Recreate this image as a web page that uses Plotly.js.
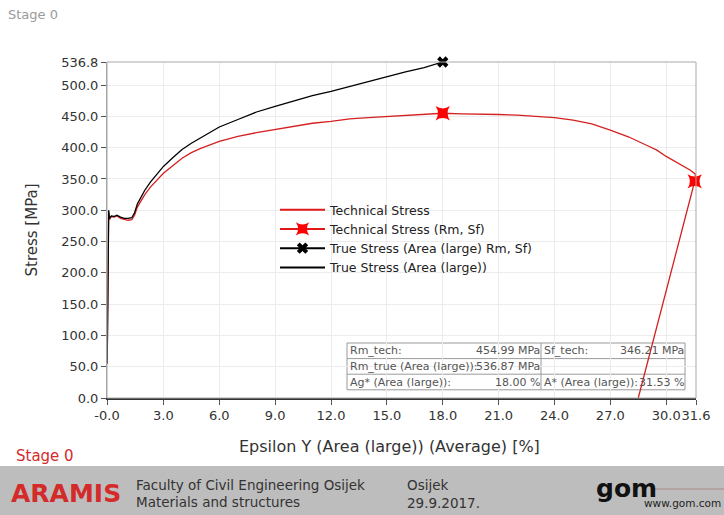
<!DOCTYPE html>
<html>
<head>
<meta charset="utf-8">
<script src="https://cdn.plot.ly/plotly-3.0.1.min.js"></script>
<style>html,body{margin:0;padding:0;background:#fff;}#chart{width:724px;height:515px;}</style>
</head>
<body>
<div id="chart"></div>
<script>
// ---- data ----
const techStrain = [-0.02, 0.0, 0.02, 0.04, 0.06, 0.1, 0.2, 0.35, 0.5, 0.7, 0.9, 1.1, 1.3, 1.45, 1.6, 1.8, 2.0, 2.3, 2.6, 3.0, 3.5, 4.0, 4.5, 5.0, 6.0, 7.0, 8.0, 9.0, 10.0, 11.0, 12.0, 13.0, 14.0, 15.0, 16.0, 17.0, 18.0, 19.0, 20.0, 21.0, 22.0, 23.0, 24.0, 25.0, 26.0, 27.0, 28.0, 29.0, 29.5, 30.0, 30.5, 31.0, 31.3, 31.55, 31.6, 31.53, 28.5];
const techStress = [55, 130, 200, 260, 298, 285, 290, 289, 291, 287, 285, 284, 285, 292, 305, 315, 325, 337, 347, 359, 371, 383, 392, 399, 410, 418, 424, 429, 435, 439, 442, 446, 448, 450, 452, 453, 455, 454, 454, 453, 452, 450, 448, 444, 438, 428, 417, 403, 396, 386, 377, 369, 364, 358, 350, 346.2, 0];
const trueStrain = [-0.02, 0.0, 0.02, 0.04, 0.06, 0.1, 0.2, 0.35, 0.5, 0.7, 0.9, 1.1, 1.3, 1.45, 1.6, 1.8, 2.0, 2.3, 2.6, 3.0, 3.5, 4.0, 4.5, 5.0, 6.0, 7.0, 8.0, 9.0, 10.0, 11.0, 12.0, 13.0, 14.0, 15.0, 16.0, 17.0, 18.0];
const trueStress = [55, 130, 200, 262, 300, 287, 291, 290, 292, 289, 287, 287, 288, 296, 310, 321, 332, 345, 356, 370, 384, 397, 407, 416, 433, 445, 457, 466, 475, 483, 490, 498, 505, 513, 521, 528, 536.87];
const techMarkStrain = [18.0, 31.53];
const techMarkStress = [454.99, 346.21];
const trueMarkStrain = [18.0];
const trueMarkStress = [536.87];

const xTickVals = [-0.03, 3, 6, 9, 12, 15, 18, 21, 24, 27, 30, 31.6];
const xTickText = ["-0.0", "3.0", "6.0", "9.0", "12.0", "15.0", "18.0", "21.0", "24.0", "27.0", "30.0", "31.6"];
const yTickVals = [0, 50, 100, 150, 200, 250, 300, 350, 400, 450, 500, 536.8];
const yTickText = ["0.0", "50.0", "100.0", "150.0", "200.0", "250.0", "300.0", "350.0", "400.0", "450.0", "500.0", "536.8"];

const tableRows = [
  ["Rm_tech:", "454.99 MPa", "Sf_tech:", "346.21 MPa"],
  ["Rm_true (Area (large)):", "536.87 MPa", "", ""],
  ["Ag* (Area (large)):", "18.00 %", "A* (Area (large)):", "31.53 %"]
];

// ---- layout geometry (pixels) ----
const W = 724, H = 515;
const L = 107, R = 696, T = 62, B = 398;
const px = x => (x - L) / (R - L);
const py = y => (B - y) / (B - T);
const FONT = "DejaVu Sans, Verdana, sans-serif";

const traces = [
  {x: techStrain, y: techStress, mode: "lines", name: "Technical Stress",
   line: {color: "#d42020", width: 1.3}, showlegend: false},
  {x: trueStrain, y: trueStress, mode: "lines", name: "True Stress (Area (large))",
   line: {color: "#000", width: 1.3}, showlegend: false},
  {x: techMarkStrain, y: techMarkStress, mode: "markers", name: "Technical Stress (Rm, Sf)",
   marker: {symbol: "star-square", size: 13, color: "#ff0000", line: {width: 0}}, cliponaxis: false, showlegend: false},
  {x: trueMarkStrain, y: trueMarkStress, mode: "markers", name: "True Stress (Area (large) Rm, Sf)",
   marker: {symbol: "x", size: 10, color: "#000", line: {width: 0}}, cliponaxis: false, showlegend: false},
  // legend entries
  {x: [null], y: [null], mode: "lines", name: "Technical Stress", line: {color: "#e01818", width: 2}},
  {x: [null], y: [null], mode: "lines+markers", name: "Technical Stress (Rm, Sf)", line: {color: "#e01818", width: 2},
   marker: {symbol: "star-square", size: 12, color: "#ff0000"}},
  {x: [null], y: [null], mode: "lines+markers", name: "True Stress (Area (large) Rm, Sf)", line: {color: "#000", width: 2},
   marker: {symbol: "x", size: 10, color: "#000"}},
  {x: [null], y: [null], mode: "lines", name: "True Stress (Area (large))", line: {color: "#000", width: 2}}
];

// table geometry
const tL = 347, tR = 685, tMid = 541, tTop = 343, tRowH = 15.6;
const shapes = [
  {type: "rect", xref: "paper", yref: "paper", x0: 0, x1: 1, y0: 0, y1: 1, line: {color: "#a8a8a8", width: 1}, layer: "above"},
  {type: "rect", xref: "paper", yref: "paper", x0: px(tL), x1: px(tR), y0: py(tTop + 3 * tRowH), y1: py(tTop),
   fillcolor: "rgba(255,255,255,0.95)", line: {color: "#9a9a9a", width: 1}, layer: "between"},
  {type: "line", xref: "paper", yref: "paper", x0: px(tL), x1: px(tR), y0: py(tTop + tRowH), y1: py(tTop + tRowH), line: {color: "#9a9a9a", width: 1}, layer: "between"},
  {type: "line", xref: "paper", yref: "paper", x0: px(tL), x1: px(tR), y0: py(tTop + 2 * tRowH), y1: py(tTop + 2 * tRowH), line: {color: "#9a9a9a", width: 1}, layer: "between"},
  {type: "line", xref: "paper", yref: "paper", x0: px(tMid), x1: px(tMid), y0: py(tTop + 3 * tRowH), y1: py(tTop), line: {color: "#9a9a9a", width: 1}, layer: "between"},
  {type: "rect", xref: "paper", yref: "paper", x0: px(0), x1: px(W), y0: py(H), y1: py(466), fillcolor: "#bdbdbd", line: {width: 0}, layer: "below"},
  {type: "line", xref: "paper", yref: "paper", x0: px(650), x1: px(W), y0: py(489), y1: py(489), line: {color: "#a88", width: 1}, layer: "above"}
];

const annotations = [];
function txt(text, x, y, opts) {
  annotations.push(Object.assign({
    text: text, xref: "paper", yref: "paper", x: px(x), y: py(y), showarrow: false,
    xanchor: "left", yanchor: "middle", font: {family: FONT, size: 11, color: "#555"}
  }, opts || {}));
}
tableRows.forEach((row, i) => {
  const yc = tTop + tRowH * (i + 0.5);
  txt(row[0], tL + 1, yc);
  txt(row[1], tMid + 1, yc, {xanchor: "right"});
  if (row[2]) txt(row[2], tMid + 1, yc);
  if (row[3]) txt(row[3], tR + 1, yc, {xanchor: "right"});
});
txt("Epsilon Y (Area (large)) (Average) [%]", 389, 446, {xanchor: "center", font: {family: FONT, size: 16, color: "#333"}});
txt("Stage 0", 6, 14, {font: {family: FONT, size: 13, color: "#9a9a9a"}});
txt("Stage 0", 14, 456, {font: {family: FONT, size: 15, color: "#d42a2a"}});
txt("<b>ARAMIS</b>", 9, 494, {font: {family: FONT, size: 25, color: "#d42a2a"}});
txt("Faculty of Civil Engineering Osijek", 134, 485, {font: {family: FONT, size: 13.5, color: "#333"}});
txt("Materials and structures", 134, 502, {font: {family: FONT, size: 13.5, color: "#333"}});
txt("Osijek", 405, 485, {font: {family: FONT, size: 13.5, color: "#333"}});
txt("29.9.2017.", 405, 503, {font: {family: FONT, size: 13.5, color: "#333"}});
txt("<b>gom</b>", 594, 488, {font: {family: FONT, size: 25, color: "#111"}});
txt("www.gom.com", 723, 503, {xanchor: "right", font: {family: FONT, size: 10.5, color: "#222"}});

const layout = {
  width: W, height: H,
  margin: {l: L, r: W - R, t: T, b: H - B, pad: 0},
  paper_bgcolor: "#fff", plot_bgcolor: "#fff",
  font: {family: FONT, size: 13, color: "#333"},
  showlegend: true,
  legend: {x: px(275), y: py(195), xanchor: "left", yanchor: "top", bgcolor: "rgba(0,0,0,0)",
           font: {family: FONT, size: 12.5, color: "#222"}, tracegroupgap: 0, itemwidth: 45},
  xaxis: {range: [-0.03, 31.6], tickvals: xTickVals, ticktext: xTickText, ticks: "outside", ticklen: 5, tickangle: 0,
          tickcolor: "#555", showgrid: true, gridcolor: "#ececec", zeroline: false,
          showline: true, linecolor: "#333", linewidth: 1.5,
          tickfont: {family: FONT, size: 13, color: "#333"}},
  yaxis: {range: [0, 536.87], tickvals: yTickVals, ticktext: yTickText, ticks: "outside", ticklen: 5,
          tickcolor: "#555", showgrid: true, gridcolor: "#ececec", zeroline: false,
          showline: true, linecolor: "#a0a0a0", linewidth: 1,
          tickfont: {family: FONT, size: 13, color: "#333"},
          title: {text: "Stress [MPa]", font: {family: FONT, size: 15, color: "#333"}, standoff: 19}},
  shapes: shapes,
  annotations: annotations
};

Plotly.newPlot("chart", traces, layout, {displayModeBar: false, staticPlot: true});
</script>
</body>
</html>
